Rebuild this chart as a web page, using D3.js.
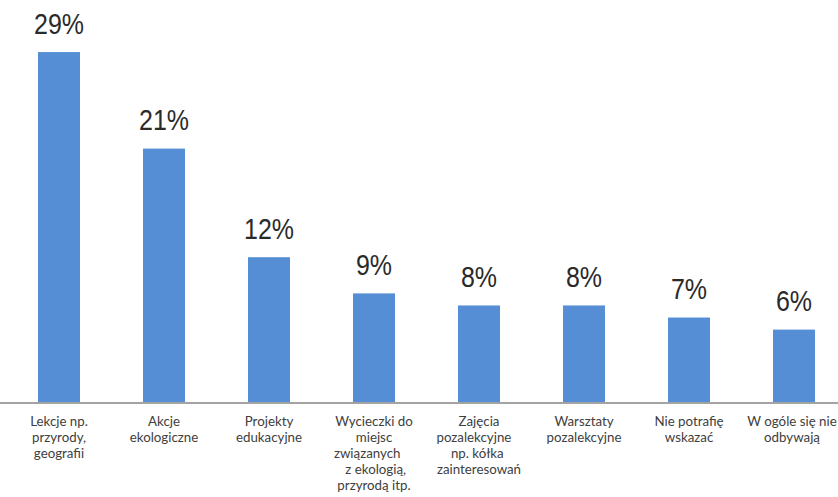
<!DOCTYPE html>
<html>
<head>
<meta charset="utf-8">
<script src="https://cdn.jsdelivr.net/npm/d3@7"></script>
<style>
  html, body { margin: 0; padding: 0; background: #ffffff; }
  svg { display: block; }
</style>
</head>
<body>
<svg id="chart" width="838" height="497"></svg>
<script>
// Category labels, one array entry per line of the wrapped label
const categories = [
  ["Lekcje np.", "przyrody,", "geografii"],
  ["Akcje", "ekologiczne"],
  ["Projekty", "edukacyjne"],
  ["Wycieczki do", "miejsc", "związanych\u00a0\u00a0\u00a0\u00a0", "\u00a0z ekologią,", "przyrodą itp."],
  ["Zajęcia", "pozalekcyjne\u00a0\u00a0\u00a0", "np. kółka\u00a0", "zainteresowań"],
  ["Warsztaty", "pozalekcyjne"],
  ["Nie potrafię", "wskazać"],
  ["W ogóle się nie", "odbywają"]
];
// Share of responses (%)
const values = [29, 21, 12, 9, 8, 8, 7, 6];
const valueLabels = ["29%", "21%", "12%", "9%", "8%", "8%", "7%", "6%"];

const W = 838, H = 497;
const baseY = 402;

const svg = d3.select("#chart");

const x = d3.scaleBand()
  .domain(d3.range(values.length))
  .range([6.5, 846.5])
  .paddingInner(0.6)
  .paddingOuter(0.3);

const y = d3.scaleLinear()
  .domain([0, 30])
  .range([baseY, 40]);

// Bars
svg.append("g")
  .selectAll("rect")
  .data(values)
  .join("rect")
  .attr("x", (d, i) => x(i))
  .attr("y", d => y(d))
  .attr("width", x.bandwidth())
  .attr("height", d => y(0) - y(d))
  .attr("fill", "#558ed5");

// Category axis line
svg.append("line")
  .attr("x1", 0)
  .attr("x2", W)
  .attr("y1", baseY + 1)
  .attr("y2", baseY + 1)
  .attr("stroke", "#a3a3a3")
  .attr("stroke-width", 2);

// Value labels above bars
svg.append("g")
  .selectAll("text")
  .data(values)
  .join("text")
  .attr("transform", (d, i) => `translate(${x(i) + x.bandwidth() / 2},${y(d) - 18.5}) scale(1,1.15)`)
  .attr("text-anchor", "middle")
  .attr("font-family", "'Liberation Sans', Arial, sans-serif")
  .attr("font-size", 25)
  .attr("fill", "#2a2a2a")
  .text((d, i) => valueLabels[i]);

// Wrapped category labels
const labels = svg.append("g")
  .selectAll("text")
  .data(categories)
  .join("text")
  .attr("text-anchor", "middle")
  .attr("font-family", "Lato, 'Open Sans', sans-serif")
  .attr("font-size", 13.3)
  .attr("fill", "#404040")
  .style("white-space", "pre")
  .attr("transform", (d, i) => `translate(${Math.min(x(i) + x.bandwidth() / 2, W - 46)},${baseY + 23.5})`);

labels.selectAll("tspan")
  .data(d => d)
  .join("tspan")
  .attr("x", 0)
  .attr("y", (d, j) => j * 16.2)
  .text(d => d);
</script>
</body>
</html>
